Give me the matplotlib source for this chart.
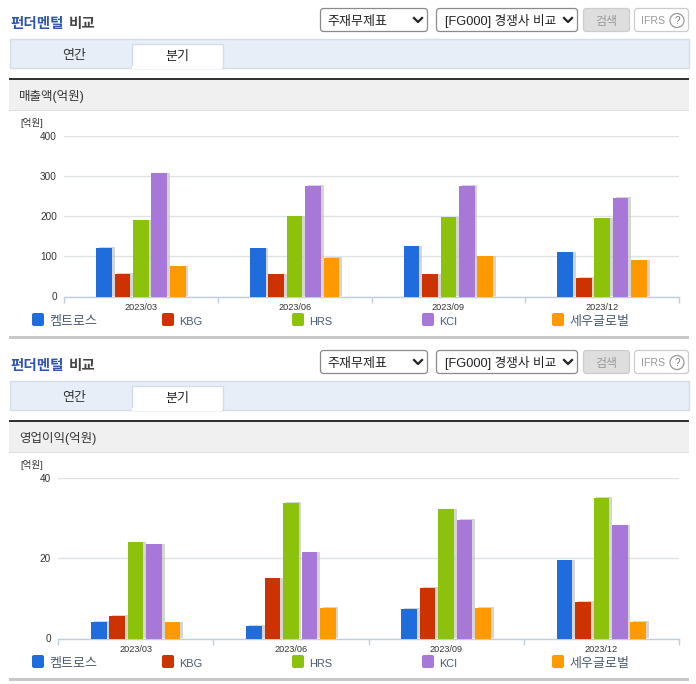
import matplotlib

matplotlib.use("Agg")

import matplotlib.patheffects as pe
import matplotlib.pyplot as plt
import numpy as np
from matplotlib.patches import Circle, FancyBboxPatch, Rectangle

plt.rcParams["font.family"] = ["Liberation Sans", "Noto Sans CJK KR", "DejaVu Sans"]

W, H = 696, 684

periods = ["2023/03", "2023/06", "2023/09", "2023/12"]
companies = ["켐트로스", "KBG", "HRS", "KCI", "세우글로벌"]
colors = ["#1f6cdc", "#cc3300", "#8cc10c", "#a878d8", "#ff9900"]

# one list per company, one value per quarter
sales_chem = [122, 120, 125, 110]
sales_kbg = [57, 55, 55, 47]
sales_hrs = [190, 200, 197, 195]
sales_kci = [307, 275, 275, 245]
sales_seou = [75, 97, 100, 90]

profit_chem = [4.2, 3.2, 7.4, 19.5]
profit_kbg = [5.7, 15.0, 12.6, 9.1]
profit_hrs = [24.0, 33.8, 32.2, 35.0]
profit_kci = [23.5, 21.5, 29.5, 28.2]
profit_seou = [4.0, 7.7, 7.7, 4.2]

sales = [sales_chem, sales_kbg, sales_hrs, sales_kci, sales_seou]
profit = [profit_chem, profit_kbg, profit_hrs, profit_kci, profit_seou]


def px(size):
    return size * 72 / 100


def box(ax, x0, y0, x1, y1, face, edge="none", lw=1.0, z=1):
    ax.add_patch(Rectangle((x0, y0), x1 - x0, y1 - y0, facecolor=face, edgecolor=edge, linewidth=lw, zorder=z))


def rounded(ax, x0, y0, x1, y1, face, edge, rad=3):
    ax.add_patch(
        FancyBboxPatch(
            (x0 + rad, y0 + rad),
            x1 - x0 - 2 * rad,
            y1 - y0 - 2 * rad,
            boxstyle=f"round,pad={rad},rounding_size={rad}",
            facecolor=face,
            edgecolor=edge,
            linewidth=0.9,
            zorder=2,
        )
    )


def chevron(ax, x, y):
    ax.plot([x - 4, x, x + 4], [y - 2, y + 2, y - 2], color="#222222", lw=1.6, zorder=3)


def draw_panel(ax, dy, header):
    # title row, all text sits on a baseline so hangul and latin line up
    ax.text(10, 28 + dy, "펀더멘털", color="#2f55b0", fontsize=px(14.5), fontweight="bold", zorder=3)
    ax.text(69, 28 + dy, "비교", color="#444444", fontsize=px(14.5), fontweight="bold", zorder=3)

    rounded(ax, 320.5, 8.5 + dy, 427.5, 31.5 + dy, "white", "#8a8a8a")
    ax.text(327, 25 + dy, "주재무제표", color="#222222", fontsize=px(13), zorder=3)
    chevron(ax, 418, 20 + dy)
    rounded(ax, 436.5, 8.5 + dy, 577.5, 31.5 + dy, "white", "#8a8a8a")
    ax.text(445, 25 + dy, "[FG000] 경쟁사 비교", color="#222222", fontsize=px(12.7), zorder=3)
    chevron(ax, 568, 20 + dy)
    rounded(ax, 583.5, 8.5 + dy, 629.5, 31.5 + dy, "#dedede", "#cccccc")
    ax.text(606, 24.5 + dy, "검색", color="#999999", fontsize=px(12), ha="center", zorder=3)
    rounded(ax, 634.5, 8.5 + dy, 688.5, 31.5 + dy, "white", "#cccccc")
    ax.text(641, 24.5 + dy, "IFRS", color="#999999", fontsize=px(10.5), zorder=3)
    ax.add_patch(Circle((677, 20.5 + dy), 7, facecolor="white", edgecolor="#999999", lw=0.9, zorder=3))
    ax.text(677, 24 + dy, "?", color="#777777", fontsize=px(10), ha="center", zorder=4)

    # tabs
    box(ax, 9.5, 38.5 + dy, 688.5, 67.5 + dy, "#e8eef8", "#d6dde8")
    box(ax, 131.5, 43.5 + dy, 222.5, 68 + dy, "white", "#d6dde8", z=2)
    box(ax, 132, 66 + dy, 222, 69 + dy, "white", z=3)
    ax.text(74, 59 + dy, "연간", color="#333333", fontsize=px(13), ha="center", zorder=4)
    ax.text(177, 60 + dy, "분기", color="#222222", fontsize=px(13), ha="center", zorder=4)

    # section header
    box(ax, 9, 78 + dy, 689, 80 + dy, "#333333")
    box(ax, 9, 80 + dy, 689, 110 + dy, "#f0f0f0")
    box(ax, 9, 110 + dy, 689, 111 + dy, "#dddddd")
    ax.text(19, 100 + dy, header, color="#333333", fontsize=px(12.5), zorder=3)
    ax.text(20, 126 + dy, "[억원]", color="#333333", fontsize=px(9.5), zorder=3)

    # legend row
    for i, (name, color) in enumerate(zip(companies, colors)):
        x = 32 + 130 * i
        ax.add_patch(
            FancyBboxPatch(
                (x + 2, 315 + dy),
                8,
                9,
                boxstyle="round,pad=2,rounding_size=2",
                facecolor=color,
                edgecolor="none",
                zorder=2,
            )
        )
        size = 11 if name.isascii() else 13
        ax.text(x + 17, 325 + dy, name, color="#4a5a70", fontsize=px(size), zorder=3)

    box(ax, 9, 336 + dy, 689, 338.5 + dy, "#c8c8c8")


def draw_chart(fig, left, right, top, bottom, series, yticks, step, width):
    ax = fig.add_axes([left / W, 1 - bottom / H, (right - left) / W, (bottom - top) / H])
    ax.patch.set_alpha(0)
    x = np.arange(len(periods))
    for i, (values, color) in enumerate(zip(series, colors)):
        bars = ax.bar(x + (i - 2) * step, values, width=width, color=color, zorder=3)
        for bar in bars:
            bar.set_path_effects(
                [pe.SimplePatchShadow(offset=(2.0, 0.5), shadow_rgbFace="#c4c4c4", alpha=0.7, rho=1.0), pe.Normal()]
            )

    ax.set_xlim(-0.5, len(periods) - 0.5)
    ax.set_ylim(yticks[0], yticks[-1])
    ax.set_yticks(yticks)
    ax.set_xticks(x)
    ax.set_xticklabels(periods)
    ax.set_xticks(np.arange(len(periods) + 1) - 0.5, minor=True)
    ax.tick_params(axis="x", which="major", length=0, labelsize=px(9.2), labelcolor="#333333", pad=px(6))
    ax.tick_params(axis="x", which="minor", length=4, color="#c0cfe0", width=1)
    ax.tick_params(axis="y", length=0, labelsize=px(10), labelcolor="#333333", pad=px(7))
    ax.grid(axis="y", color="#e0e3e6", linewidth=1, zorder=0)
    ax.set_axisbelow(True)
    for side in ["top", "right", "left"]:
        ax.spines[side].set_visible(False)
    ax.spines["bottom"].set_color("#c0cfe0")
    ax.spines["bottom"].set_linewidth(1)
    return ax


def main():
    fig = plt.figure(figsize=(W / 100, H / 100), dpi=100, facecolor="white")
    page = fig.add_axes([0, 0, 1, 1])
    page.set_xlim(0, W)
    page.set_ylim(H, 0)
    page.axis("off")

    draw_panel(page, 0, "매출액(억원)")
    draw_panel(page, 342, "영업이익(억원)")

    draw_chart(fig, 64, 679, 136, 296.5, sales, [0, 100, 200, 300, 400], 0.12, 0.102)
    draw_chart(fig, 58, 679, 478, 638.5, profit, [0, 20, 40], 0.119, 0.101)

    fig.savefig("out.png", dpi=100)
    plt.close(fig)


if __name__ == "__main__":
    main()
